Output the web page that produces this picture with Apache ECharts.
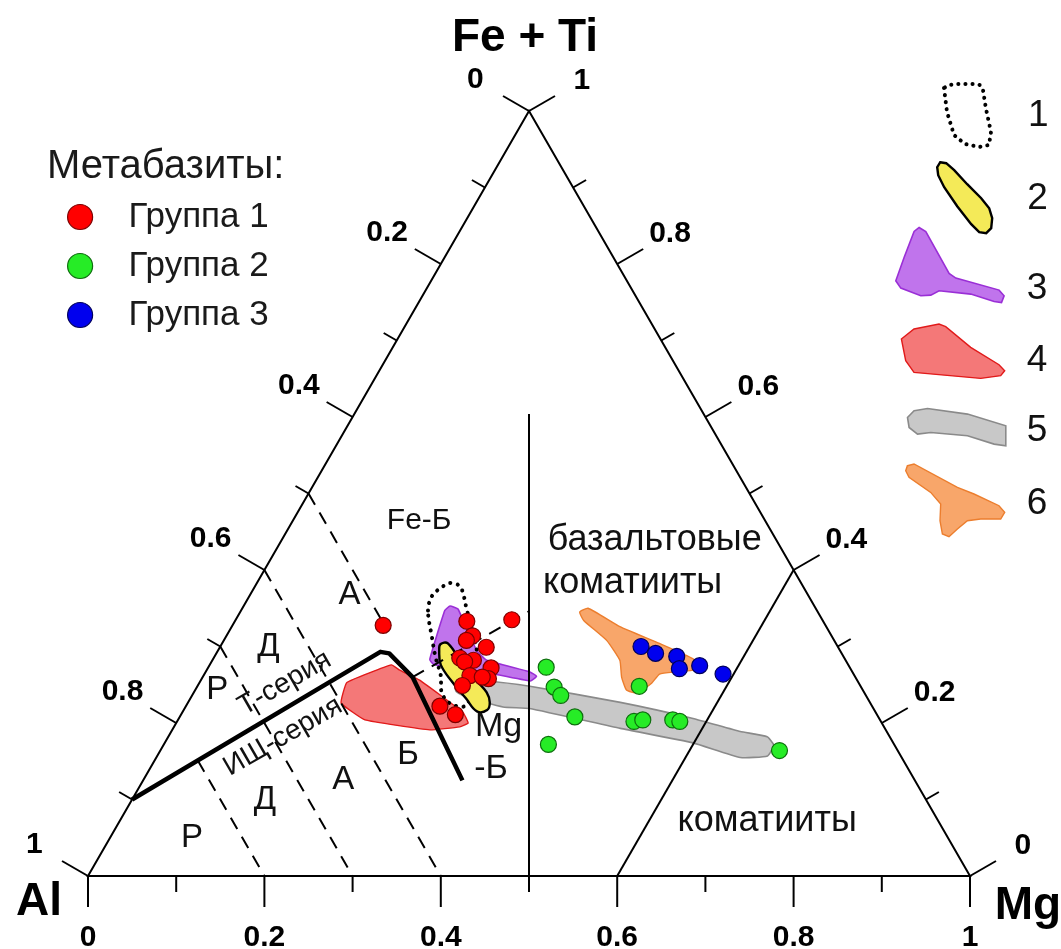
<!DOCTYPE html>
<html>
<head>
<meta charset="utf-8">
<script src="https://cdn.jsdelivr.net/npm/echarts@6/dist/echarts.min.js"></script>
<style>
  html, body { margin: 0; padding: 0; background: #fff; }
  #chart { width: 1061px; height: 949px; }
</style>
</head>
<body>
<div id="chart"></div>
<script>
// Jensen cation plot. Every composition is [Al, Fe+Ti, Mg] (cation proportions).

// Metabasite analyses
const group1 = [
  [0.502, 0.328, 0.171], [0.404, 0.333, 0.263], [0.352, 0.335, 0.313],
  [0.407, 0.314, 0.279], [0.417, 0.308, 0.275], [0.399, 0.299, 0.302],
  [0.436, 0.285, 0.279], [0.422, 0.282, 0.296], [0.433, 0.280, 0.287],
  [0.407, 0.272, 0.321], [0.436, 0.262, 0.302], [0.417, 0.258, 0.325],
  [0.423, 0.260, 0.317], [0.451, 0.249, 0.300], [0.490, 0.222, 0.288],
  [0.478, 0.211, 0.311]
];
const group2 = [
  [0.344, 0.273, 0.383], [0.348, 0.247, 0.405], [0.346, 0.236, 0.418],
  [0.344, 0.208, 0.448], [0.392, 0.172, 0.436], [0.251, 0.248, 0.501],
  [0.280, 0.202, 0.518], [0.269, 0.204, 0.527], [0.235, 0.204, 0.561],
  [0.228, 0.202, 0.570], [0.134, 0.164, 0.702]
];
const group3 = [
  [0.223, 0.300, 0.477], [0.211, 0.291, 0.498], [0.189, 0.287, 0.524],
  [0.194, 0.271, 0.535], [0.169, 0.275, 0.556], [0.148, 0.264, 0.588]
];

// Comparison fields 1-6 (outlines of published compositions)
const field1 = [
  [0.441, 0.347, 0.212], [0.427, 0.366, 0.207], [0.411, 0.377, 0.212], [0.398, 0.383, 0.219],
  [0.389, 0.379, 0.232], [0.391, 0.366, 0.243], [0.395, 0.353, 0.252], [0.404, 0.321, 0.275],
  [0.417, 0.282, 0.301], [0.442, 0.243, 0.315], [0.462, 0.222, 0.316], [0.477, 0.226, 0.297],
  [0.479, 0.240, 0.281], [0.469, 0.262, 0.269], [0.463, 0.286, 0.251], [0.454, 0.312, 0.234]
];
const field2 = [
  [0.449, 0.303, 0.248], [0.440, 0.304, 0.256], [0.437, 0.276, 0.287], [0.432, 0.256, 0.312],
  [0.428, 0.240, 0.332], [0.431, 0.227, 0.342], [0.439, 0.217, 0.344], [0.451, 0.215, 0.333],
  [0.455, 0.232, 0.312], [0.460, 0.253, 0.287], [0.462, 0.276, 0.262], [0.453, 0.294, 0.250]
];
const field3 = [
  [0.422, 0.347, 0.231], [0.413, 0.353, 0.234], [0.406, 0.349, 0.245], [0.412, 0.295, 0.293],
  [0.407, 0.282, 0.311], [0.366, 0.267, 0.367], [0.361, 0.261, 0.378], [0.371, 0.255, 0.374],
  [0.415, 0.266, 0.319], [0.461, 0.274, 0.265], [0.470, 0.277, 0.253], [0.471, 0.283, 0.246]
];
const field4 = [
  [0.580, 0.253, 0.167], [0.518, 0.276, 0.206], [0.512, 0.269, 0.219], [0.496, 0.256, 0.248],
  [0.468, 0.214, 0.318], [0.469, 0.200, 0.331], [0.481, 0.195, 0.324], [0.517, 0.191, 0.292],
  [0.584, 0.204, 0.212], [0.600, 0.226, 0.174]
];
const field5 = [
  [0.456, 0.256, 0.288], [0.420, 0.255, 0.325], [0.375, 0.248, 0.377], [0.283, 0.227, 0.490],
  [0.211, 0.206, 0.583], [0.166, 0.189, 0.645], [0.139, 0.182, 0.679], [0.137, 0.171, 0.692],
  [0.151, 0.157, 0.692], [0.183, 0.155, 0.662], [0.227, 0.174, 0.599], [0.300, 0.193, 0.507],
  [0.390, 0.219, 0.391], [0.419, 0.221, 0.360], [0.454, 0.234, 0.312], [0.462, 0.241, 0.297]
];
const field6 = [
  [0.270, 0.345, 0.385], [0.258, 0.350, 0.392], [0.234, 0.326, 0.440], [0.200, 0.304, 0.496],
  [0.172, 0.284, 0.544], [0.169, 0.271, 0.560], [0.199, 0.267, 0.534], [0.220, 0.264, 0.516],
  [0.235, 0.252, 0.513], [0.258, 0.239, 0.503], [0.268, 0.243, 0.489], [0.265, 0.260, 0.475],
  [0.256, 0.282, 0.462], [0.258, 0.308, 0.434], [0.271, 0.334, 0.395]
];

// Classification boundaries
const seriesDivide = [[0.9, 0.1, 0], [0.522, 0.293, 0.185], [0.513, 0.291, 0.196], [0.502, 0.26, 0.238], [0.513, 0.125, 0.362]];
const feMgDivide = [[0.502, 0.26, 0.238], [0.327, 0.346, 0.327]];
const basaltDivide = [[0.5, 0, 0.5], [0.198, 0.604, 0.198]];
const komatiiteDivide = [[0.4, 0, 0.6], [0, 0.4, 0.6]];
const rockDivides = [
  [[0.5, 0.5, 0], [0.5, 0.32, 0.18]],
  [[0.6, 0.4, 0], [0.6, 0, 0.4]],
  [[0.7, 0.3, 0], [0.7, 0, 0.3]],
  [[0.8, 0.151, 0.049], [0.8, 0, 0.2]]
];

// Axis ticks
const tickValues = [0, 0.1, 0.2, 0.3, 0.4, 0.5, 0.6, 0.7, 0.8, 0.9, 1];
const labelledTicks = [0, 0.2, 0.4, 0.6, 0.8, 1];
const tickLabels = ['0', '0.2', '0.4', '0.6', '0.8', '1'];
const cornerNames = ['Al', 'Fe + Ti', 'Mg'];

// Field names and their anchor compositions
const fieldNames = [
  ['Fe-Б', [0.392, 0.465, 0.143]],
  ['базальтовые', [0.138, 0.439, 0.423]],
  ['коматииты', [0.191, 0.383, 0.426]],
  ['коматииты', [0.194, 0.072, 0.734]],
  ['А', [0.520, 0.367, 0.113]],
  ['Д', [0.646, 0.299, 0.055]],
  ['Р', [0.732, 0.243, 0.025]],
  ['Т-серия', [0.651, 0.252, 0.097]],
  ['ИЩ-серия', [0.688, 0.182, 0.130]],
  ['Б', [0.558, 0.158, 0.284]],
  ['А', [0.648, 0.125, 0.227]],
  ['Д', [0.750, 0.099, 0.151]],
  ['Р', [0.857, 0.050, 0.093]],
  ['Mg', [0.437, 0.195, 0.368]],
  ['-Б', [0.473, 0.140, 0.387]]
];

const groupNames = ['Группа 1', 'Группа 2', 'Группа 3'];
const fieldKeys = ['1', '2', '3', '4', '5', '6'];

// ---------------------------------------------------------------------------
const FONT = '"Liberation Sans", Arial, sans-serif';
const SQ = Math.sqrt(3) / 2;
// ternary composition -> cartesian position inside the unit triangle
function tern(c) {
  const s = c[0] + c[1] + c[2];
  const f = c[1] / s, m = c[2] / s;
  return [m + f / 2, f * SQ];
}

const fieldNameStyle = [
  { size: 30 }, { size: 36 }, { size: 36 }, { size: 36 },
  { size: 33 }, { size: 33 }, { size: 33 },
  { size: 28, rotate: 30 }, { size: 28, rotate: 30 },
  { size: 33 }, { size: 33 }, { size: 33 }, { size: 33 },
  { size: 34 }, { size: 34 }
];

const fieldStyle = [
  { fill: 'none', stroke: '#000', lineWidth: 4, lineDash: [0.1, 7.5], lineCap: 'round', smooth: 0.35 },
  { fill: '#f4ea58', stroke: '#000', lineWidth: 2.4, smooth: 0.4 },
  { fill: '#c074ec', stroke: '#9a2fd6', lineWidth: 1.6, smooth: 0.12 },
  { fill: '#f47878', stroke: '#e11a1a', lineWidth: 1.4, smooth: 0.1 },
  { fill: '#c8c8c8', stroke: '#8a8a8a', lineWidth: 1.6, smooth: 0.15 },
  { fill: '#f8a66a', stroke: '#ec7e2e', lineWidth: 1.4, smooth: 0.15 }
];
const fields = [field1, field2, field3, field4, field5, field6];
const fieldZ = [6, 6, 5, 4, 3, 4];

const groupStyle = [
  { color: '#ff0000', borderColor: '#7d0000' },
  { color: '#26ec26', borderColor: '#0d6e0d' },
  { color: '#0000ee', borderColor: '#00005c' }
];
const groups = [group1, group2, group3];

// key glyph outlines for fields 1-6; textY is where the key number sits
const keyGlyphs = [
  { path: 'M0,4 L3,28 L10,51 L21,60 L35,63 L45,61 L47,48 L42,25 L39,6 L36,1 L30,0 L13,0 L5,1 Z', w: 47, h: 63, left: 942, top: 82, textY: 113 },
  { path: 'M3,0 L9,1 L17,8 L30,22 L44,36 L52,46 L55,56 L54,66 L49,71 L42,70 L34,62 L20,44 L7,25 L1,13 L0,5 Z', w: 55, h: 71, left: 936, top: 161, textY: 198 },
  { path: 'M23.3,0 L30,4 L53.3,46 L60,50.6 L103.3,62.6 L108.3,68.3 L105.7,75 L98.3,74 L75,66.6 L43.3,63.3 L35,67.6 L25,68.3 L5,60.6 L0,53.3 L8.3,30 L18.3,4 Z', w: 108.3, h: 75, left: 895, top: 226.7, textY: 288 },
  { path: 'M12.6,5 L37.6,0 L44.3,2.7 L69.3,23.4 L97.6,40.7 L103.3,46.7 L99.3,51.7 L79.3,54.4 L12.6,48.4 L4.3,36.7 L0,15 Z', w: 103.3, h: 54.4, left: 900.7, top: 323.3, textY: 360 },
  { path: 'M6.6,2.3 L20,0 L60,5.6 L98.3,17.3 L98.3,37.3 L86.6,35.6 L60,27.3 L23.3,24 L10,25.6 L1.6,19 L0,9 Z', w: 98.3, h: 37.3, left: 906.7, top: 407.7, textY: 430 },
  { path: 'M1.7,1.7 L8.3,0 L51.7,23.4 L68.3,30 L93.3,41.7 L99,48.4 L95,55 L75,55 L61.7,56.7 L51.7,65 L43.3,72.7 L36.7,70 L34.3,56.7 L35,40 L25,28.4 L3.3,13.4 L0,6.7 Z', w: 99, h: 72.7, left: 905, top: 463.3, textY: 503 }
];
const KEY_TEXT_LEFT = 1026;
const KEY_FONT = 37;

// ---------------------------------------------------------------------------
const series = [];

// triangle frame, ticks, tick labels and corner names
series.push({
  type: 'custom', name: 'frame', coordinateSystem: 'cartesian2d', clip: false, silent: true, z: 1,
  dimensions: ['x', 'y'], encode: { x: 0, y: 1 },
  data: [tern([1, 0, 0])],
  renderItem(params, api) {
    const P = c => api.coord(tern(c));
    const kids = [];
    const A = P([1, 0, 0]), F = P([0, 1, 0]), M = P([0, 0, 1]);
    kids.push({ type: 'polygon', shape: { points: [A, F, M] }, style: { fill: 'none', stroke: '#000', lineWidth: 2 } });
    const sides = [
      { at: v => [1 - v, 0, v], dir: [0, 1], off: 62, major: 31, minor: 16 },          // Mg, bottom
      { at: v => [v, 1 - v, 0], dir: [-SQ, -0.5], off: 62, major: 30, minor: 15 },      // Al, left
      { at: v => [0, v, 1 - v], dir: [SQ, -0.5], off: 61, major: 30, minor: 15 }        // Fe+Ti, right
    ];
    sides.forEach(s => {
      tickValues.forEach(v => {
        const p = P(s.at(v));
        const isMajor = Math.abs(v * 5 - Math.round(v * 5)) < 1e-6;
        const len = isMajor ? s.major : s.minor;
        kids.push({ type: 'line', shape: { x1: p[0], y1: p[1], x2: p[0] + s.dir[0] * len, y2: p[1] + s.dir[1] * len },
          style: { stroke: '#000', lineWidth: 2 } });
      });
      labelledTicks.forEach((v, i) => {
        const p = P(s.at(v));
        kids.push({ type: 'text', x: p[0] + s.dir[0] * s.off, y: p[1] + s.dir[1] * s.off,
          style: { text: tickLabels[i], font: 'bold 30px ' + FONT, fill: '#000', align: 'center', verticalAlign: 'middle' } });
      });
    });
    const nameAt = [[A[0] - 49, A[1] + 26], [F[0] - 4, F[1] - 73], [M[0] + 58, M[1] + 30]];
    cornerNames.forEach((t, i) => {
      kids.push({ type: 'text', x: nameAt[i][0], y: nameAt[i][1],
        style: { text: t, font: 'bold 46px ' + FONT, fill: '#000', align: 'center', verticalAlign: 'middle' } });
    });
    return { type: 'group', children: kids };
  }
});

// comparison fields
fields.forEach((verts, i) => {
  const st = fieldStyle[i];
  series.push({
    type: 'custom', name: fieldKeys[i], coordinateSystem: 'cartesian2d', clip: false, silent: true, z: fieldZ[i],
    dimensions: ['x', 'y'], encode: { x: 0, y: 1 },
    itemStyle: { color: st.fill === 'none' ? 'rgba(0,0,0,0)' : st.fill, borderColor: st.stroke, borderWidth: st.lineWidth },
    data: verts.map(tern),
    renderItem(params, api) {
      if (params.dataIndex !== 0) return null;
      const pts = verts.map(v => api.coord(tern(v)));
      const style = { fill: st.fill, stroke: st.stroke, lineWidth: st.lineWidth };
      if (st.lineDash) { style.lineDash = st.lineDash; style.lineCap = st.lineCap; }
      return { type: 'polygon', shape: { points: pts, smooth: st.smooth }, style };
    }
  });
});

// boundaries
function boundary(name, pts, width, dashed) {
  return {
    type: 'line', name, data: pts.map(tern), showSymbol: false, silent: true, z: 8,
    lineStyle: { color: '#000', width, type: dashed ? [13, 9] : 'solid', join: 'round', cap: 'butt' },
    emphasis: { disabled: true }
  };
}
series.push(boundary('series', seriesDivide, 4.5, false));
series.push(boundary('basalt', basaltDivide, 2, false));
series.push(boundary('komatiite', komatiiteDivide, 2, false));
series.push(boundary('femg', feMgDivide, 2, true));
rockDivides.forEach((seg, i) => series.push(boundary('rock' + i, seg, 2, true)));

// field names
series.push({
  type: 'custom', name: 'names', coordinateSystem: 'cartesian2d', clip: false, silent: true, z: 9,
  dimensions: ['x', 'y'], encode: { x: 0, y: 1 },
  data: fieldNames.map(f => tern(f[1])),
  renderItem(params, api) {
    const i = params.dataIndex;
    const p = api.coord(tern(fieldNames[i][1]));
    const st = fieldNameStyle[i];
    return { type: 'text', x: p[0], y: p[1], rotation: (st.rotate || 0) * Math.PI / 180,
      style: { text: fieldNames[i][0], font: st.size + 'px ' + FONT, fill: '#111', align: 'center', verticalAlign: 'middle' } };
  }
});

// analyses
groups.forEach((g, i) => {
  series.push({
    type: 'scatter', name: groupNames[i], data: g.map(tern), symbol: 'circle', symbolSize: 16, z: 10,
    itemStyle: { color: groupStyle[i].color, borderColor: groupStyle[i].borderColor, borderWidth: 1.2, opacity: 1 },
    emphasis: { disabled: true }
  });
});

// legends
const legends = [];
legends.push({
  orient: 'vertical', left: 67, top: 199.5, padding: 0, itemGap: 14, itemWidth: 25, itemHeight: 25,
  selectedMode: false,
  textStyle: { fontSize: 35, fontFamily: FONT, color: '#1a1a1a', padding: [0, 0, 0, 31] },
  data: groupNames.map((n, i) => ({ name: n, icon: 'circle',
    itemStyle: { color: groupStyle[i].color, borderColor: groupStyle[i].borderColor, borderWidth: 1.2 } }))
});
keyGlyphs.forEach((k, i) => {
  const st = fieldStyle[i];
  // stretch the icon box downwards with an empty segment so the number lines up with textY
  const h = Math.max(k.h, 2 * (k.textY - k.top));
  const path = h > k.h ? k.path + ' M0,' + h + ' L0,' + h : k.path;
  const itemStyle = { color: st.fill === 'none' ? 'rgba(0,0,0,0)' : st.fill, borderColor: st.stroke, borderWidth: st.lineWidth };
  if (st.lineDash) { itemStyle.borderType = [0.1, 7]; itemStyle.borderCap = 'round'; itemStyle.borderWidth = 4; }
  legends.push({
    orient: 'vertical', left: k.left, top: k.top, padding: 0, itemWidth: k.w, itemHeight: h,
    selectedMode: false, symbolKeepAspect: true,
    textStyle: { fontSize: KEY_FONT, fontFamily: FONT, color: '#111',
      padding: [0, 0, 0, KEY_TEXT_LEFT - (k.left + k.w + 5)] },
    data: [{ name: fieldKeys[i], icon: 'path://' + path, itemStyle }]
  });
});

const option = {
  animation: false,
  backgroundColor: '#fff',
  title: {
    text: 'Метабазиты:', left: 47, top: 147, padding: 0,
    textStyle: { fontSize: 40, fontWeight: 'normal', fontFamily: FONT, color: '#1a1a1a' }
  },
  legend: legends,
  grid: { left: 88, top: 111, width: 882, height: 765 },
  xAxis: { type: 'value', min: 0, max: 1, show: false },
  yAxis: { type: 'value', min: 0, max: SQ, show: false },
  series
};

const chart = echarts.init(document.getElementById('chart'));
chart.setOption(option);
</script>
</body>
</html>
